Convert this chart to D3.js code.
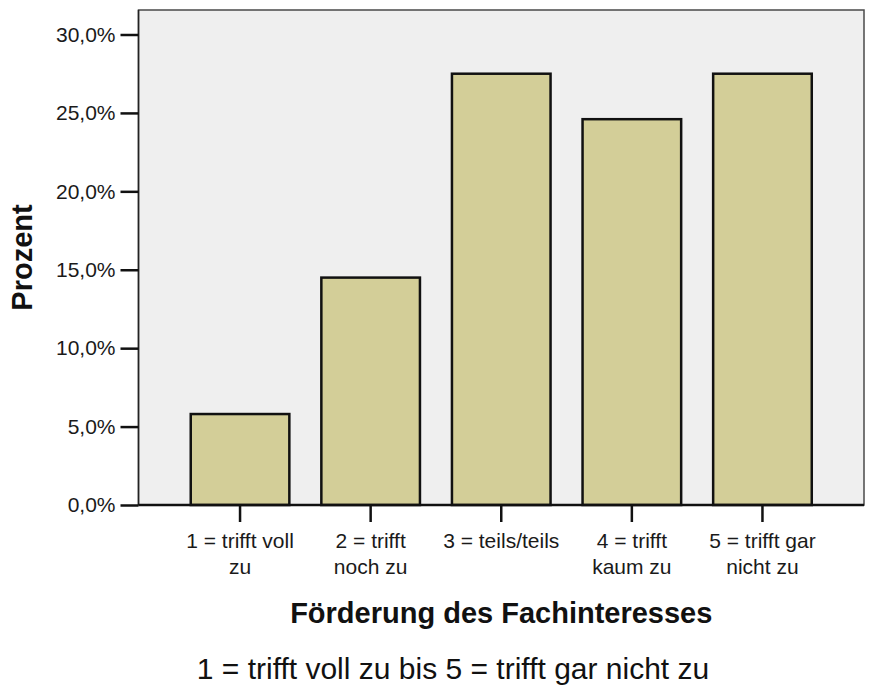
<!DOCTYPE html>
<html>
<head>
<meta charset="utf-8">
<script src="https://cdn.jsdelivr.net/npm/d3@7"></script>
<style>
  html, body { margin: 0; padding: 0; background: #ffffff; }
  svg { display: block; font-family: "Liberation Sans", Arial, sans-serif; }
</style>
</head>
<body>
<svg id="chart" width="869" height="691"></svg>
<script>
// Data
const categories = ["1", "2", "3", "4", "5"];
const categoryLabels = [
  ["1 = trifft voll", "zu"],
  ["2 = trifft", "noch zu"],
  ["3 = teils/teils"],
  ["4 = trifft", "kaum zu"],
  ["5 = trifft gar", "nicht zu"]
];
const percentValues = [5.8, 14.5, 27.5, 24.6, 27.5];
const yTickValues = [0, 5, 10, 15, 20, 25, 30];
const yTickLabels = ["0,0%", "5,0%", "10,0%", "15,0%", "20,0%", "25,0%", "30,0%"];
const xTitle = "Förderung des Fachinteresses";
const yTitle = "Prozent";
const footnote = "1 = trifft voll zu bis 5 = trifft gar nicht zu";

const svg = d3.select("#chart");
const plot = { left: 138.5, right: 864, top: 10, bottom: 505 };

const x = d3.scaleBand()
  .domain(categories)
  .range([plot.left, plot.right])
  .paddingInner(0.245)
  .paddingOuter(0.4);

const y = d3.scaleLinear()
  .domain([0, 30])
  .range([plot.bottom, 34.5]);

// Plot background
svg.append("rect")
  .attr("x", plot.left).attr("y", plot.top)
  .attr("width", plot.right - plot.left)
  .attr("height", plot.bottom - plot.top)
  .attr("fill", "#efefef")
  .attr("stroke", "#4a4a4a")
  .attr("stroke-width", 1.5);

// Bars
svg.append("g").selectAll("rect")
  .data(percentValues)
  .join("rect")
  .attr("x", (d, i) => x(categories[i]))
  .attr("y", d => y(d))
  .attr("width", x.bandwidth())
  .attr("height", d => y(0) - y(d))
  .attr("fill", "#d3ce98")
  .attr("stroke", "#111")
  .attr("stroke-width", 2.5);

// Y axis
const yAxis = d3.axisLeft(y)
  .tickValues(yTickValues)
  .tickFormat((d, i) => yTickLabels[i])
  .tickSize(18)
  .tickPadding(5);
const gy = svg.append("g")
  .attr("transform", `translate(${plot.left},0)`)
  .call(yAxis);
gy.select(".domain").attr("stroke", "#222").attr("stroke-width", 1.5).attr("d", `M0,${plot.bottom}V${plot.top}`);
gy.selectAll(".tick line").attr("stroke", "#111").attr("stroke-width", 2.5);
gy.selectAll(".tick text")
  .attr("font-size", 21)
  .attr("fill", "#1a1a1a")
  .attr("font-family", "Liberation Sans, Arial, sans-serif");

// X axis
const xAxis = d3.axisBottom(x).tickSize(17).tickFormat("");
const gx = svg.append("g")
  .attr("transform", `translate(0,${plot.bottom})`)
  .call(xAxis);
gx.select(".domain").attr("stroke", "#111").attr("stroke-width", 2.5).attr("d", `M${plot.left},0H${plot.right}`);
gx.selectAll(".tick line").attr("stroke", "#111").attr("stroke-width", 2.5);

// X category labels (multi-line)
const labelG = svg.append("g")
  .attr("font-size", 21)
  .attr("fill", "#1a1a1a")
  .attr("text-anchor", "middle");
categoryLabels.forEach((lines, i) => {
  const cx = x(categories[i]) + x.bandwidth() / 2;
  const t = labelG.append("text").attr("x", cx).attr("y", 548);
  lines.forEach((ln, j) => {
    t.append("tspan").attr("x", cx).attr("y", 548 + j * 26).text(ln);
  });
});

// Axis titles
svg.append("text")
  .attr("x", (plot.left + plot.right) / 2)
  .attr("y", 623)
  .attr("text-anchor", "middle")
  .attr("font-size", 29)
  .attr("font-weight", "bold")
  .attr("fill", "#111")
  .text(xTitle);

svg.append("text")
  .attr("transform", `translate(32,${(plot.top + plot.bottom) / 2}) rotate(-90)`)
  .attr("text-anchor", "middle")
  .attr("font-size", 29)
  .attr("font-weight", "bold")
  .attr("fill", "#111")
  .text(yTitle);

// Footnote
svg.append("text")
  .attr("x", 453)
  .attr("y", 679)
  .attr("text-anchor", "middle")
  .attr("font-size", 30)
  .attr("fill", "#111")
  .text(footnote);
</script>
</body>
</html>
